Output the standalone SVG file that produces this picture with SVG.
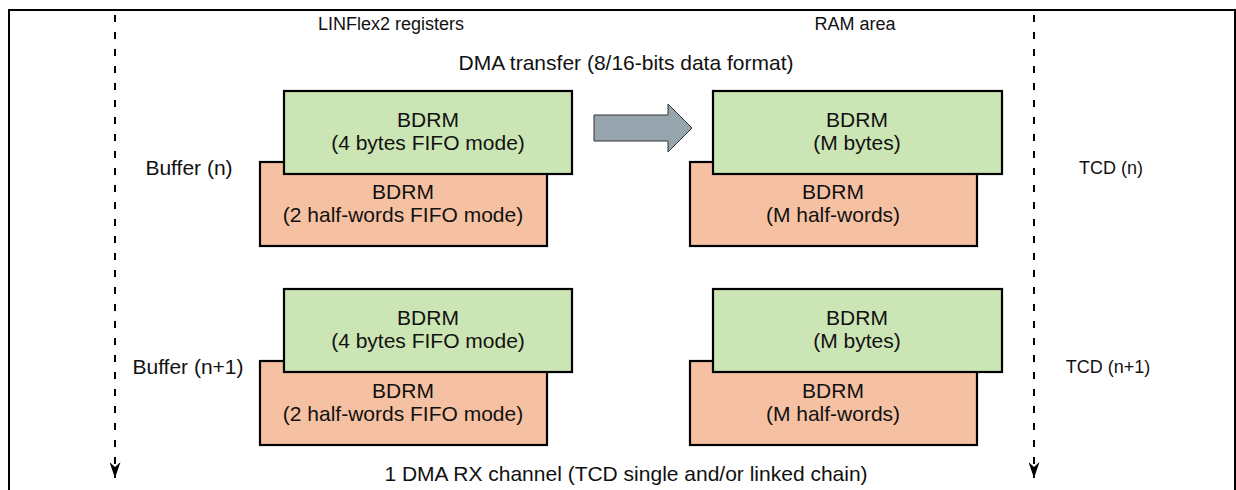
<svg xmlns="http://www.w3.org/2000/svg" width="1236" height="490" viewBox="0 0 1236 490">
<style>
text{font-family:"Liberation Sans",Arial,sans-serif;font-size:21px;fill:#111;}
.c{text-anchor:middle;}
.s{font-size:18px;}
.g{fill:#cce5b4;stroke:#000;stroke-width:2.2;}
.o{fill:#f6c1a2;stroke:#000;stroke-width:2.2;}
.d{stroke:#000;stroke-width:2;stroke-dasharray:7 10;fill:none;}
</style>
<defs>
<marker id="ah" markerWidth="16" markerHeight="11" refX="16" refY="5.5" orient="auto" markerUnits="userSpaceOnUse" viewBox="0 0 16 11">
<path d="M0,0 L16,5.5 L0,11 L5,5.5 Z" fill="#000"/>
</marker>
</defs>
<rect x="9" y="10" width="1226" height="500" fill="none" stroke="#000" stroke-width="2"/>
<g id="connectors">
<line class="d" x1="115" y1="15" x2="115" y2="478" marker-end="url(#ah)"/>
<line class="d" x1="1034" y1="15" x2="1034" y2="478" marker-end="url(#ah)"/>
<path d="M594,115 L668,115 L668,104 L692,128 L668,152 L668,141 L594,141 Z" fill="#96a4ad" stroke="#333" stroke-width="1"/>
</g>
<g id="labels">
<text class="c s" x="391" y="30">LINFlex2 registers</text>
<text class="c s" x="855" y="30">RAM area</text>
<text class="c" x="626" y="70">DMA transfer (8/16-bits data format)</text>
<text class="c" x="189" y="175">Buffer (n)</text>
<text class="c s" x="1111" y="174">TCD (n)</text>
<text class="c" x="188" y="374">Buffer (n+1)</text>
<text class="c s" x="1108" y="373">TCD (n+1)</text>
<text class="c" x="626" y="481">1 DMA RX channel (TCD single and/or linked chain)</text>
</g>
<g id="buf-n-half">
<rect class="o" x="260" y="162" width="287" height="84"/>
<text class="c" x="403" y="199">BDRM</text>
<text class="c" x="403" y="222">(2 half-words FIFO mode)</text>
</g>
<g id="buf-n-bytes">
<rect class="g" x="284" y="91" width="288" height="83"/>
<text class="c" x="428" y="127">BDRM</text>
<text class="c" x="428" y="150">(4 bytes FIFO mode)</text>
</g>
<g id="tcd-n-half">
<rect class="o" x="690" y="162" width="287" height="84"/>
<text class="c" x="833" y="199">BDRM</text>
<text class="c" x="833" y="222">(M half-words)</text>
</g>
<g id="tcd-n-bytes">
<rect class="g" x="713" y="91" width="289" height="83"/>
<text class="c" x="857" y="127">BDRM</text>
<text class="c" x="857" y="150">(M bytes)</text>
</g>
<g id="buf-n1-half">
<rect class="o" x="260" y="361" width="287" height="84"/>
<text class="c" x="403" y="398">BDRM</text>
<text class="c" x="403" y="421">(2 half-words FIFO mode)</text>
</g>
<g id="buf-n1-bytes">
<rect class="g" x="284" y="289" width="288" height="83"/>
<text class="c" x="428" y="325">BDRM</text>
<text class="c" x="428" y="348">(4 bytes FIFO mode)</text>
</g>
<g id="tcd-n1-half">
<rect class="o" x="690" y="361" width="287" height="84"/>
<text class="c" x="833" y="398">BDRM</text>
<text class="c" x="833" y="421">(M half-words)</text>
</g>
<g id="tcd-n1-bytes">
<rect class="g" x="713" y="289" width="289" height="83"/>
<text class="c" x="857" y="325">BDRM</text>
<text class="c" x="857" y="348">(M bytes)</text>
</g>
</svg>
